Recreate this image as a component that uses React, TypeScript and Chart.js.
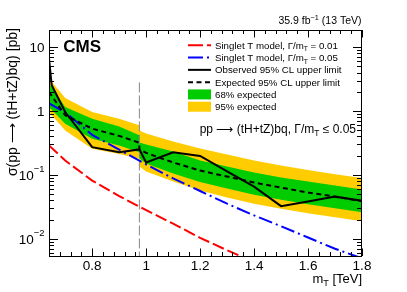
import { useEffect, useRef } from "react";
import { Chart, registerables } from "chart.js";

Chart.register(...registerables);

const FONT = '"Liberation Sans", Arimo, Arial, Helvetica, sans-serif';

// ---- data ----
const bandMass = [0.64, 0.7, 0.8, 0.9, 0.975, 0.975, 1.0, 1.1, 1.2, 1.3, 1.4, 1.5, 1.6, 1.7, 1.8];
const expected = [1.99, 0.857, 0.53, 0.408, 0.319, 0.251, 0.221, 0.157, 0.117, 0.0944, 0.076, 0.0634, 0.053, 0.0458, 0.0389];
const plus1 = [2.69, 1.156, 0.76, 0.575, 0.416, 0.323, 0.3, 0.233, 0.168, 0.136, 0.109, 0.091, 0.0788, 0.0682, 0.059];
const minus1 = [1.156, 0.634, 0.369, 0.29, 0.227, 0.181, 0.151, 0.105, 0.0774, 0.0612, 0.0492, 0.0411, 0.0349, 0.0302, 0.0262];
const plus2 = [3.23, 1.6, 0.965, 0.755, 0.597, 0.498, 0.447, 0.334, 0.26, 0.209, 0.168, 0.141, 0.119, 0.103, 0.0893];
const minus2 = [0.965, 0.498, 0.257, 0.213, 0.179, 0.136, 0.113, 0.0788, 0.0569, 0.0442, 0.0356, 0.0297, 0.0252, 0.0218, 0.0189];

const obsMass = [0.64, 0.65, 0.7, 0.8, 0.9, 0.975, 1.0, 1.1, 1.2, 1.3, 1.4, 1.5, 1.6, 1.7, 1.8];
const observed = [6.65, 2.53, 0.965, 0.272, 0.227, 0.251, 0.157, 0.227, 0.198, 0.114, 0.0658, 0.0325, 0.0385, 0.0458, 0.0396];

const theoryMass = [0.64, 0.7, 0.8, 0.9, 1.0, 1.1, 1.2, 1.3, 1.4, 1.5, 1.6, 1.7, 1.8];
const singlet005 = [1.32, 0.955, 0.424, 0.249, 0.146, 0.0885, 0.0561, 0.0356, 0.0233, 0.0158, 0.0105, 0.007, 0.00497];
const singlet001 = [0.29, 0.168, 0.0817, 0.0467, 0.0281, 0.0173, 0.0104, 0.00662, 0.00438, 0.00294];

const boundaryMass = [0.975, 0.975];
const boundaryXsec = [2.8, 0.0054];

const xMin = 0.64;
const xMax = 1.8;
const yMin = 0.0054;
const yMax = 18.5;
const xTickValues = [0.8, 1.0, 1.2, 1.4, 1.6, 1.8];
const xTickLabels = ["0.8", "1", "1.2", "1.4", "1.6", "1.8"];
const yTickValues = [0.01, 0.1, 1, 10];
const yTickBase = ["10", "10", "1", "10"];
const yTickExp = ["\u22122", "\u22121", "", ""];

const GREEN = "#00cc00";
const YELLOW = "#ffcc00";

type Part = { t: string; s?: "sub" | "sup" };

function partFont(size: number, p: Part, weight: string) {
  const sz = p.s ? size * 0.7 : size;
  return `${weight} ${sz}px ${FONT}`;
}

function richWidth(ctx: CanvasRenderingContext2D, parts: Part[], size: number, weight = "") {
  let w = 0;
  for (const p of parts) {
    ctx.font = partFont(size, p, weight);
    w += ctx.measureText(p.t).width;
  }
  return w;
}

function drawRich(
  ctx: CanvasRenderingContext2D,
  parts: Part[],
  x: number,
  y: number,
  size: number,
  align: "left" | "right",
  weight = "",
  supRaise = 0.45
) {
  const w = richWidth(ctx, parts, size, weight);
  let cx = align === "right" ? x - w : x;
  ctx.textAlign = "left";
  ctx.textBaseline = "alphabetic";
  for (const p of parts) {
    ctx.font = partFont(size, p, weight);
    let dy = 0;
    if (p.s === "sub") dy = size * 0.25;
    if (p.s === "sup") dy = -size * supRaise;
    ctx.fillText(p.t, cx, y + dy);
    cx += ctx.measureText(p.t).width;
  }
}

const pts = (xs: number[], ys: number[]) => ys.map((y, i) => ({ x: xs[i], y }));

const decor = {
  id: "rootDecor",
  afterDraw(chart: any) {
    const ctx: CanvasRenderingContext2D = chart.ctx;
    const ca = chart.chartArea;
    const xs = chart.scales.x;
    const ys = chart.scales.y;
    ctx.save();
    ctx.fillStyle = "#000";
    ctx.strokeStyle = "#000";
    ctx.lineWidth = 1;
    ctx.setLineDash([]);

    // frame
    ctx.strokeRect(ca.left + 0.5, ca.top + 0.5, ca.right - ca.left - 1, ca.bottom - ca.top);

    // x ticks (inside, bottom and top)
    ctx.beginPath();
    for (let k = 0; ; k++) {
      const v = +(xMin + k * 0.04).toFixed(4);
      if (v > xMax + 1e-9) break;
      const major = xTickValues.some((t) => Math.abs(t - v) < 1e-6);
      const len = major ? 7.5 : 4;
      const px = Math.round(xs.getPixelForValue(v)) + 0.5;
      ctx.moveTo(px, ca.bottom);
      ctx.lineTo(px, ca.bottom - len);
      ctx.moveTo(px, ca.top);
      ctx.lineTo(px, ca.top + len);
    }
    // y ticks (inside, left and right)
    for (let e = -3; e <= 1; e++) {
      for (let d = 1; d <= 9; d++) {
        const v = d * Math.pow(10, e);
        if (v < yMin || v > yMax) continue;
        const len = d === 1 ? 9 : 5;
        const py = Math.round(ys.getPixelForValue(v)) + 0.5;
        ctx.moveTo(ca.left, py);
        ctx.lineTo(ca.left + len, py);
        ctx.moveTo(ca.right, py);
        ctx.lineTo(ca.right - len, py);
      }
    }
    ctx.stroke();

    // y tick labels
    yTickValues.forEach((v, i) => {
      const py = ys.getPixelForValue(v);
      const parts: Part[] = [{ t: yTickBase[i] }];
      if (yTickExp[i]) parts.push({ t: yTickExp[i], s: "sup" });
      drawRich(ctx, parts, ca.left - 4.5, py + 4.8, 13.5, "right", "", 0.6);
    });

    // axis titles
    drawRich(ctx, [{ t: "m" }, { t: "T", s: "sub" }, { t: " [TeV]" }], ca.right, 283, 13, "right");
    ctx.save();
    ctx.translate(17, 28);
    ctx.rotate(-Math.PI / 2);
    drawRich(ctx, [{ t: "\u03c3(pp \u27f6 (tH+tZ)bq) [pb]" }], 0, 0, 14, "right");
    ctx.restore();

    // CMS + lumi
    drawRich(ctx, [{ t: "CMS" }], 63.3, 52.3, 17, "left", "bold");
    drawRich(ctx, [{ t: "35.9 fb" }, { t: "\u22121", s: "sup" }, { t: " (13 TeV)" }], 361.5, 24.3, 10.5, "right");

    // annotation
    drawRich(
      ctx,
      [{ t: "pp \u27f6 (tH+tZ)bq, \u0393/m" }, { t: "T", s: "sub" }, { t: " \u2264 0.05" }],
      356,
      132.5,
      12,
      "right"
    );

    // legend
    const lx0 = 188;
    const lx1 = 211;
    const tx = 215;
    const rowY = (i: number) => 45.3 + i * 12.28;
    const fs = 9.7;
    const entries: { kind: string; parts: Part[] }[] = [
      { kind: "red", parts: [{ t: "Singlet T model, \u0393/m" }, { t: "T", s: "sub" }, { t: " = 0.01" }] },
      { kind: "blue", parts: [{ t: "Singlet T model, \u0393/m" }, { t: "T", s: "sub" }, { t: " = 0.05" }] },
      { kind: "obs", parts: [{ t: "Observed 95% CL upper limit" }] },
      { kind: "exp", parts: [{ t: "Expected 95% CL upper limit" }] },
      { kind: "g", parts: [{ t: "68% expected" }] },
      { kind: "y", parts: [{ t: "95% expected" }] },
    ];
    entries.forEach((en, i) => {
      const cy = rowY(i);
      ctx.save();
      if (en.kind === "g" || en.kind === "y") {
        ctx.fillStyle = en.kind === "g" ? GREEN : YELLOW;
        ctx.fillRect(lx0, cy - 5, lx1 - lx0, 10);
      } else {
        ctx.lineWidth = 2;
        if (en.kind === "red") {
          ctx.strokeStyle = "#ff0000";
          ctx.setLineDash([15, 4]);
        } else if (en.kind === "blue") {
          ctx.strokeStyle = "#0000ff";
          ctx.setLineDash([15, 4, 2, 4]);
        } else if (en.kind === "exp") {
          ctx.strokeStyle = "#000";
          ctx.setLineDash([5, 3.5]);
        } else {
          ctx.strokeStyle = "#000";
        }
        ctx.beginPath();
        ctx.moveTo(lx0, cy);
        ctx.lineTo(lx1, cy);
        ctx.stroke();
      }
      ctx.restore();
      ctx.fillStyle = "#000";
      drawRich(ctx, en.parts, tx, cy + 3.5, fs, "left");
    });

    ctx.restore();
  },
};

export default function App() {
  const ref = useRef<HTMLCanvasElement>(null);
  useEffect(() => {
    if (!ref.current) return;
    const common = { pointRadius: 0, clip: 0, tension: 0 };
    const chart = new Chart(ref.current, {
      type: "line",
      data: {
        datasets: [
          {
            ...common,
            data: pts(bandMass, plus2),
            borderWidth: 0,
            borderColor: "rgba(0,0,0,0)",
            backgroundColor: YELLOW,
            fill: "+1",
            order: 10,
          },
          {
            ...common,
            data: pts(bandMass, minus2),
            borderWidth: 0,
            borderColor: "rgba(0,0,0,0)",
            fill: false,
            order: 10,
          },
          {
            ...common,
            data: pts(bandMass, plus1),
            borderWidth: 0,
            borderColor: "rgba(0,0,0,0)",
            backgroundColor: GREEN,
            fill: "+1",
            order: 5,
          },
          {
            ...common,
            data: pts(bandMass, minus1),
            borderWidth: 0,
            borderColor: "rgba(0,0,0,0)",
            fill: false,
            order: 5,
          },
          {
            ...common,
            data: pts(boundaryMass, boundaryXsec),
            borderColor: "#888888",
            borderWidth: 1,
            borderDash: [10, 3],
            fill: false,
            order: 3,
          },
          {
            ...common,
            data: pts(theoryMass, singlet001),
            borderColor: "#ff0000",
            borderWidth: 2,
            borderDash: [12, 4],
            fill: false,
            order: 2,
          },
          {
            ...common,
            data: pts(theoryMass, singlet005),
            borderColor: "#0000ff",
            borderWidth: 2,
            borderDash: [14, 4, 2, 4],
            fill: false,
            order: 2,
          },
          {
            ...common,
            data: pts(bandMass, expected),
            borderColor: "#000",
            borderWidth: 2,
            borderDash: [5, 3.5],
            fill: false,
            order: 1,
          },
          {
            ...common,
            data: pts(obsMass, observed),
            borderColor: "#000",
            borderWidth: 2,
            fill: false,
            order: 0,
          },
        ],
      },
      options: {
        animation: false,
        responsive: false,
        events: [],
        layout: { padding: { left: 0, top: 30, right: 45, bottom: 0 } },
        plugins: { legend: { display: false }, tooltip: { enabled: false } },
        scales: {
          x: {
            type: "linear",
            min: xMin,
            max: xMax,
            grid: { display: false, drawTicks: false },
            border: { display: false },
            afterBuildTicks: (s: any) => {
              s.ticks = xTickValues.map((v) => ({ value: v }));
            },
            afterFit: (s: any) => {
              s.height = 36;
            },
            ticks: {
              autoSkip: false,
              maxRotation: 0,
              padding: 2,
              color: "#000",
              font: { family: FONT, size: 13.5 },
              callback: (_v: any, i: number) => xTickLabels[i],
            },
          },
          y: {
            type: "logarithmic",
            min: yMin,
            max: yMax,
            grid: { display: false, drawTicks: false },
            border: { display: false },
            afterBuildTicks: (s: any) => {
              s.ticks = yTickValues.map((v) => ({ value: v }));
            },
            afterFit: (s: any) => {
              s.width = 49;
            },
            ticks: { display: false },
          },
        },
      } as any,
      plugins: [decor],
    });
    return () => chart.destroy();
  }, []);
  return (
    <div style={{ position: "absolute", left: 0, top: 0, width: 407, height: 292, background: "#fff" }}>
      <canvas ref={ref} width={407} height={292} />
    </div>
  );
}
